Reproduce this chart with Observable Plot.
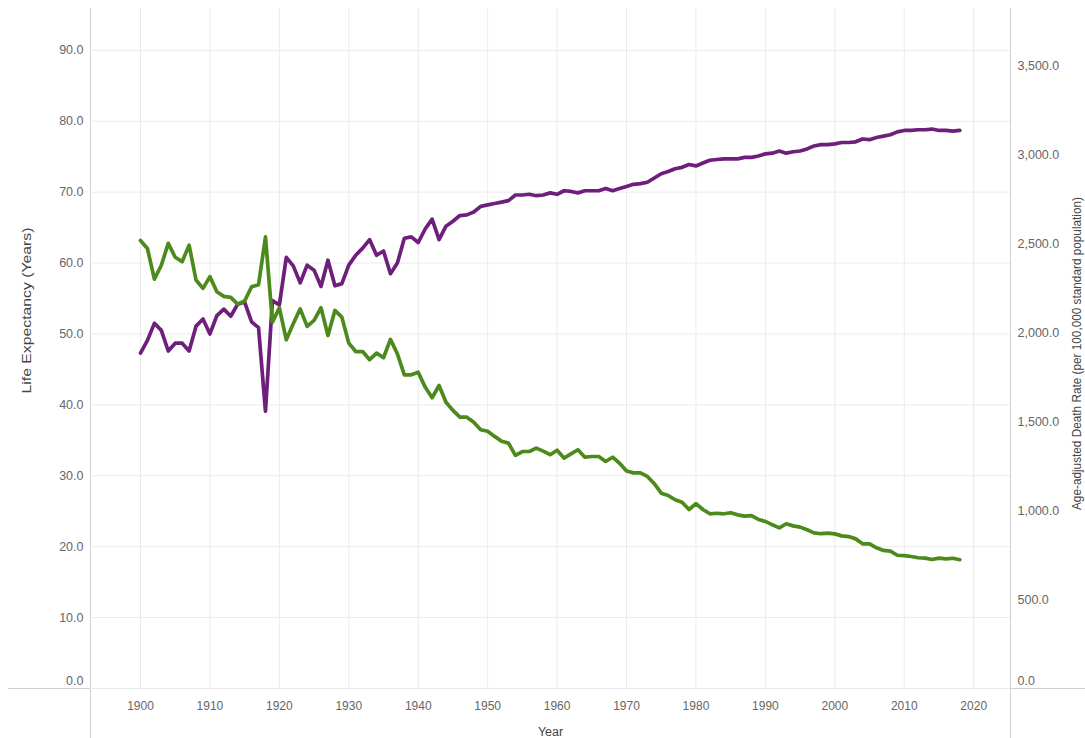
<!DOCTYPE html>
<html>
<head>
<meta charset="utf-8">
<script src="https://cdn.jsdelivr.net/npm/d3@7"></script>
<script src="https://cdn.jsdelivr.net/npm/@observablehq/plot@0.6"></script>
<style>
  html, body { margin: 0; padding: 0; background: #fff; }
  #chart svg { display: block; }
</style>
</head>
<body>
<div id="chart"></div>
<script>
// ---- Data (United States, 1900–2018) ----
const years = d3.range(1900, 2019);

const lifeExpectancy = [
  47.3, 49.1, 51.5, 50.5, 47.6, 48.7, 48.7, 47.6, 51.1, 52.1,
  50.0, 52.6, 53.5, 52.5, 54.2, 54.5, 51.7, 50.9, 39.1, 54.7,
  54.1, 60.8, 59.6, 57.2, 59.7, 59.0, 56.7, 60.4, 56.8, 57.1,
  59.7, 61.1, 62.1, 63.3, 61.1, 61.7, 58.5, 60.0, 63.5, 63.7,
  62.9, 64.8, 66.2, 63.3, 65.2, 65.9, 66.7, 66.8, 67.2, 68.0,
  68.2, 68.4, 68.6, 68.8, 69.6, 69.6, 69.7, 69.5, 69.6, 69.9,
  69.7, 70.2, 70.1, 69.9, 70.2, 70.2, 70.2, 70.5, 70.2, 70.5,
  70.8, 71.1, 71.2, 71.4, 72.0, 72.6, 72.9, 73.3, 73.5, 73.9,
  73.7, 74.1, 74.5, 74.6, 74.7, 74.7, 74.7, 74.9, 74.9, 75.1,
  75.4, 75.5, 75.8, 75.5, 75.7, 75.8, 76.1, 76.5, 76.7, 76.7,
  76.8, 77.0, 77.0, 77.1, 77.5, 77.4, 77.7, 77.9, 78.1, 78.5,
  78.7, 78.7, 78.8, 78.8, 78.9, 78.7, 78.7, 78.6, 78.7
];

const deathRate = [
  2518, 2473, 2301, 2379, 2502, 2424, 2399, 2492, 2296, 2249,
  2315, 2230, 2204, 2198, 2160, 2178, 2258, 2269, 2538, 2059,
  2140, 1960, 2050, 2134, 2035, 2069, 2140, 1984, 2125, 2087,
  1941, 1894, 1894, 1848, 1885, 1859, 1962, 1881, 1763, 1763,
  1778, 1694, 1634, 1703, 1609, 1563, 1525, 1525, 1497, 1454,
  1446, 1417, 1390, 1379, 1310, 1332, 1332, 1351, 1334, 1314,
  1339, 1295, 1319, 1342, 1300, 1304, 1304, 1276, 1300, 1266,
  1223, 1212, 1212, 1192, 1151, 1098, 1085, 1061, 1047, 1006,
  1039, 1006, 982, 985, 982, 988, 976, 969, 972, 950,
  939, 920, 903, 926, 914, 907, 892, 875, 870, 873,
  869, 858, 854, 841, 813, 813, 791, 776, 772, 749,
  747, 742, 735, 733, 725, 733, 729, 732, 724
];

const xTicks = [1900, 1910, 1920, 1930, 1940, 1950, 1960, 1970, 1980, 1990, 2000, 2010, 2020];
const leftTicks = [0, 10, 20, 30, 40, 50, 60, 70, 80, 90];
const rightTicks = [0, 500, 1000, 1500, 2000, 2500, 3000, 3500];

const xTitle = "Year";
const leftTitle = "Life Expectancy (Years)";
const rightTitle = "Age-adjusted Death Rate (per 100,000 standard population)";

// ---- Scales setup ----
const leftMax = 95.9;     // top of left axis
const rightMax = 3822;    // top of right axis
const k = rightMax / leftMax; // death-rate units per life-expectancy unit

const leData = years.map((year, i) => ({year, value: lifeExpectancy[i]}));
const drData = years.map((year, i) => ({year, value: deathRate[i] / k}));

const fmt1 = d3.format(".1f");
const fmtC = d3.format(",.1f");

const W = 1085, H = 738;
const mL = 90, mR = 75, mT = 8, mB = 50;

const purple = "#6e1f7c";
const green = "#4b8a1b";

const plot = Plot.plot({
  width: W,
  height: H,
  marginLeft: mL,
  marginRight: mR,
  marginTop: mT,
  marginBottom: mB,
  style: {fontFamily: "'Liberation Sans', Arial, sans-serif", fontSize: "12.5px", color: "#666", background: "#fff"},
  x: {domain: [1892.8, 2025.3]},
  y: {domain: [0, leftMax]},
  marks: [
    Plot.gridY(leftTicks, {stroke: "#ebebeb", strokeOpacity: 1}),
    Plot.gridX(xTicks, {stroke: "#ebebeb", strokeOpacity: 1}),
    Plot.axisX(xTicks, {tickSize: 0, tickPadding: 13, tickFormat: d => String(d), label: null, fill: "#666", fontSize: 12}),
    Plot.axisY(leftTicks.filter(d => d > 0), {anchor: "left", tickSize: 0, tickPadding: 7, tickFormat: fmt1, label: null, fill: "#666"}),
    Plot.axisY([0], {anchor: "left", tickSize: 0, tickPadding: 7, tickFormat: fmt1, label: null, dy: -8, fill: "#666"}),
    Plot.axisY(rightTicks.filter(d => d > 0).map(v => v / k), {anchor: "right", tickSize: 0, tickPadding: 7, tickFormat: d => fmtC(Math.round(d * k)), label: null, fill: "#666"}),
    Plot.axisY([0], {anchor: "right", tickSize: 0, tickPadding: 7, tickFormat: d => fmtC(Math.round(d * k)), label: null, dy: -8, fill: "#666"}),
    Plot.lineY(leData, {x: "year", y: "value", stroke: purple, strokeWidth: 3.7, strokeLinejoin: "round", strokeLinecap: "round"}),
    Plot.lineY(drData, {x: "year", y: "value", stroke: green, strokeWidth: 3.7, strokeLinejoin: "round", strokeLinecap: "round"}),
    Plot.text([xTitle], {text: d => d, frameAnchor: "bottom", textAnchor: "middle", lineAnchor: "middle", dy: 43, fill: "#444", fontSize: 12.5}),
    Plot.text([leftTitle], {text: d => d, frameAnchor: "left", textAnchor: "middle", lineAnchor: "middle", rotate: -90, dx: -64, dy: -38, fill: "#444", fontSize: 13}),
    Plot.text([rightTitle], {text: d => d, frameAnchor: "right", textAnchor: "middle", lineAnchor: "middle", rotate: -90, dx: 67, dy: 5, fill: "#444", fontSize: 12})
  ]
});

// Axis lines (decoration) extending into the margins
const svg = d3.select(plot);
const axisG = svg.insert("g", ":first-child + *").attr("stroke", "#cfcfcf").attr("stroke-width", 1);
axisG.append("line").attr("x1", mL + 0.5).attr("x2", mL + 0.5).attr("y1", mT).attr("y2", H);
axisG.append("line").attr("x1", W - mR + 0.5).attr("x2", W - mR + 0.5).attr("y1", mT).attr("y2", H);
axisG.append("line").attr("x1", 8).attr("x2", W).attr("y1", H - mB + 0.5).attr("y2", H - mB + 0.5);

// Title lengths as measured on the reference
svg.selectAll("text").each(function () {
  const t = this.textContent;
  if (t === leftTitle) d3.select(this).attr("textLength", 166).attr("lengthAdjust", "spacingAndGlyphs");
  if (t === rightTitle) d3.select(this).attr("textLength", 313).attr("lengthAdjust", "spacingAndGlyphs");
});

document.getElementById("chart").appendChild(plot);
</script>
</body>
</html>
